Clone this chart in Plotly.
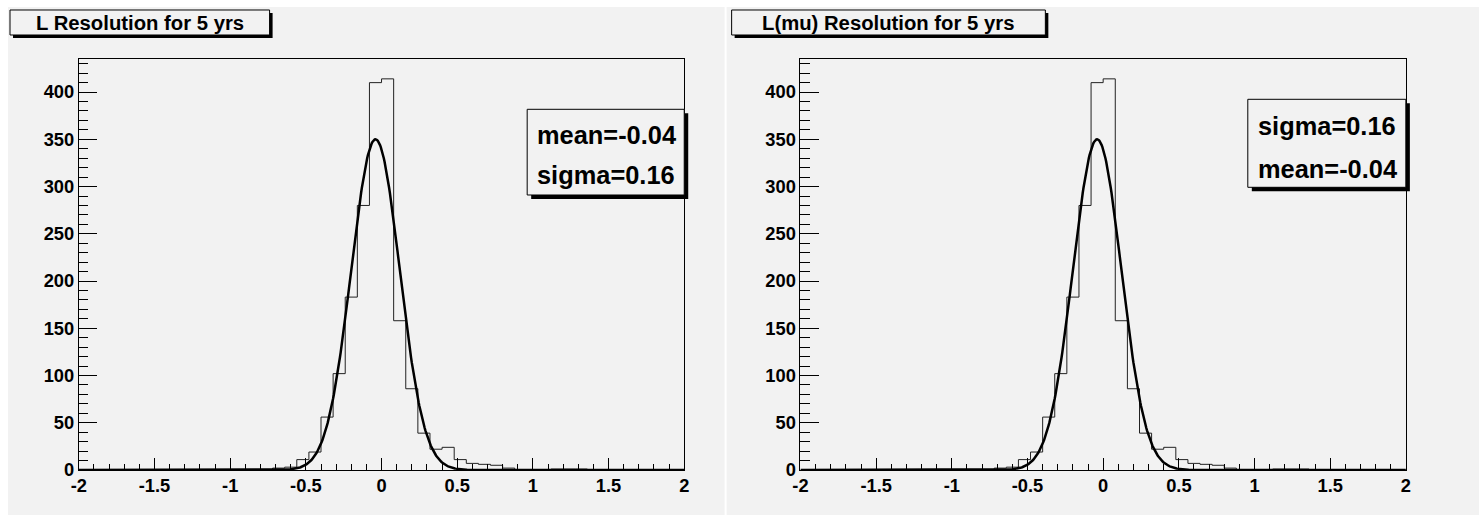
import numpy as np
import plotly.graph_objects as go

# figure size and the page->figure pixel mapping measured from earlier renders
W, H = 1484, 526
OX, SX, SY = 8.0, 0.989, 0.981

# ---------------- data ----------------
bin_lo, bin_hi, n_bins = -2.0, 2.0, 50
counts = [0, 0, 0, 0, 0, 0, 0, 0, 0, 0,
          0, 0, 0, 0, 0, 0, 2, 3, 11, 19,
          56, 102, 183, 280, 410, 414, 158, 86, 39, 22,
          24, 11, 7, 6, 5, 2, 0, 0, 0, 1,
          1, 1, 0, 0, 0, 0, 0, 0, 0, 0]
fit_amp, fit_mean, fit_sigma = 350.0, -0.04, 0.16

titles = ["L Resolution for 5 yrs", "L(mu) Resolution for 5 yrs"]
stats_lines = [["mean=-0.04", "sigma=0.16"], ["sigma=0.16", "mean=-0.04"]]

x_tickvals = [-2, -1.5, -1, -0.5, 0, 0.5, 1, 1.5, 2]
x_ticktext = ["-2", "-1.5", "-1", "-0.5", "0", "0.5", "1", "1.5", "2"]
y_tickvals = [0, 50, 100, 150, 200, 250, 300, 350, 400]
y_ticktext = ["0", "50", "100", "150", "200", "250", "300", "350", "400"]
y_max = 434.7

# ---------------- helpers (target picture pixel -> paper fraction) ----------------
def px(x):
    return min(max(((x - OX) / SX) / W, 0.0), 1.0)

def py(y):
    return min(max(1 - (y / SY) / H, 0.0), 1.0)

edges = np.linspace(bin_lo, bin_hi, n_bins + 1)
step_y = list(counts) + [counts[-1]]
xc = np.linspace(bin_lo, bin_hi, 801)
yc = fit_amp * np.exp(-0.5 * ((xc - fit_mean) / fit_sigma) ** 2)

BG = "#f2f2f2"
FONT = "Liberation Sans, Arial, sans-serif"

fig = go.Figure()

frames = [(78.7, 682.7), (798.7, 1402.7)]
y_top, y_bot = 59.3, 470.0

for k in range(2):
    xa = "x" if k == 0 else "x2"
    ya = "y" if k == 0 else "y2"
    fig.add_trace(go.Scatter(x=edges, y=step_y, mode="lines", line_shape="hv",
                             line=dict(color="#222222", width=1),
                             xaxis=xa, yaxis=ya, showlegend=False, hoverinfo="skip"))
    fig.add_trace(go.Scatter(x=xc, y=yc, mode="lines",
                             line=dict(color="black", width=2.5),
                             xaxis=xa, yaxis=ya, showlegend=False, hoverinfo="skip"))

axis_common = dict(showline=True, mirror=True, linecolor="black", linewidth=1,
                   showgrid=False, zeroline=False, ticks="inside", tickcolor="black",
                   tickfont=dict(family=FONT, size=18.3, color="black", weight="bold"))

for k in range(2):
    x0, x1 = frames[k]
    sx = "" if k == 0 else "2"
    fig.update_layout(**{
        "xaxis" + sx: dict(axis_common, domain=[px(x0), px(x1)], range=[bin_lo, bin_hi],
                           tickvals=x_tickvals, ticktext=x_ticktext, ticklen=12.2,
                           anchor="y" + sx, ticklabelstandoff=-1,
                           minor=dict(dtick=0.1, tick0=0, ticklen=6.1, ticks="inside",
                                      tickcolor="black", showgrid=False)),
        "yaxis" + sx: dict(axis_common, domain=[py(y_bot), py(y_top)], range=[0, y_max],
                           tickvals=y_tickvals, ticktext=y_ticktext, ticklen=18.2,
                           anchor="x" + sx,
                           minor=dict(dtick=10, tick0=0, ticklen=9.1, ticks="inside",
                                      tickcolor="black", showgrid=False)),
    })

shapes = []
# pads
shapes.append(dict(type="rect", xref="paper", yref="paper", x0=px(2), x1=px(723),
                   y0=0, y1=py(7), fillcolor=BG, line=dict(width=0), layer="below"))
shapes.append(dict(type="rect", xref="paper", yref="paper", x0=px(725), x1=px(1478),
                   y0=0, y1=py(7), fillcolor=BG, line=dict(width=0), layer="below"))

def box(x0, y0, x1, y1, sh=3):
    shapes.append(dict(type="rect", xref="paper", yref="paper", x0=px(x0 + sh), x1=px(x1 + sh),
                       y0=py(y1 + sh), y1=py(y0 + sh), fillcolor="black",
                       line=dict(width=0), layer="above"))
    shapes.append(dict(type="rect", xref="paper", yref="paper", x0=px(x0), x1=px(x1),
                       y0=py(y1), y1=py(y0), fillcolor=BG,
                       line=dict(color="black", width=1), layer="above"))

title_boxes = [(10, 10, 269, 35), (730, 10, 1043, 35)]
stat_boxes = [(526, 109.3, 682.7, 195), (1245, 99.3, 1402.7, 187.3)]
stat_text_x = [534, 1253]
stat_text_y = [(134, 174), (124.7, 168)]

annotations = []
for k in range(2):
    bx0, by0, bx1, by1 = title_boxes[k]
    box(bx0, by0, bx1, by1)
    annotations.append(dict(xref="paper", yref="paper", x=px((bx0 + bx1) / 2), y=py(23),
                            text=titles[k], showarrow=False, xanchor="center", yanchor="middle",
                            font=dict(family=FONT, size=20.3, color="black", weight="bold")))
    sx0, sy0, sx1, sy1 = stat_boxes[k]
    box(sx0, sy0, sx1, sy1, sh=4)
    for j, line in enumerate(stats_lines[k]):
        annotations.append(dict(xref="paper", yref="paper", x=px(stat_text_x[k]),
                                y=py(stat_text_y[k][j] + 1), text=line, showarrow=False,
                                xanchor="left", yanchor="middle",
                                font=dict(family=FONT, size=25.4, color="black", weight="bold")))

fig.update_layout(width=W, height=H, margin=dict(l=0, r=0, t=0, b=0),
                  paper_bgcolor="white", plot_bgcolor=BG,
                  shapes=shapes, annotations=annotations, showlegend=False)

fig.write_html("out.html")
